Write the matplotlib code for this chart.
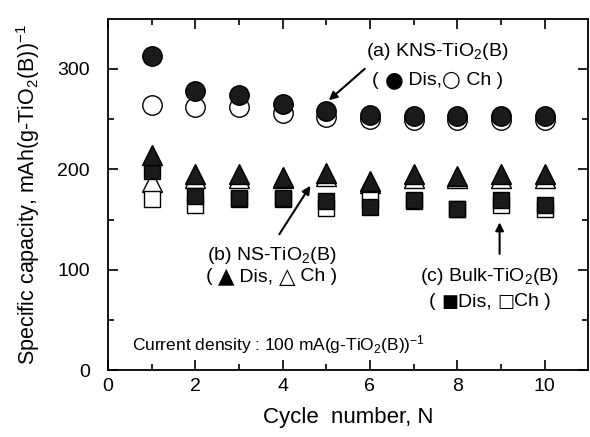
import numpy as np
import matplotlib
matplotlib.use("Agg")
import matplotlib.pyplot as plt
from matplotlib.offsetbox import TextArea, HPacker, AnnotationBbox

plt.rcParams['font.family'] = ['Liberation Sans', 'DejaVu Sans']
plt.rcParams['mathtext.fontset'] = 'custom'
plt.rcParams['mathtext.rm'] = 'Liberation Sans'
plt.rcParams['mathtext.it'] = 'Liberation Sans:italic'
plt.rcParams['mathtext.bf'] = 'Liberation Sans:bold'

# Data
cycles = np.arange(1, 11)
kns_dis = [313, 278, 274, 265, 258, 254, 253, 253, 253, 253]
kns_ch = [264, 262, 262, 256, 252, 250, 249, 249, 249, 249]
ns_dis = [214, 195, 195, 192, 196, 188, 195, 193, 195, 195]
ns_ch = [187, 191, 191, 191, 193, 186, 191, 191, 191, 191]
bulk_dis = [198, 173, 171, 171, 168, 163, 169, 161, 169, 165]
bulk_ch = [170, 165, 170, 170, 162, 169, 168, 161, 165, 161]

fig = plt.figure(figsize=(5.9, 4.37), dpi=100)
ax = fig.add_axes([0.183, 0.153, 0.814, 0.804])

ax.plot(cycles, ns_ch, '^', ms=14, mfc='white', mec='black', mew=1.0)
ax.plot(cycles, bulk_ch, 's', ms=12, mfc='white', mec='black', mew=1.0)
ax.plot(cycles, bulk_dis, 's', ms=12, mfc='#1a1a1a', mec='black', mew=1.0)
ax.plot(cycles, ns_dis, '^', ms=14, mfc='#1a1a1a', mec='black', mew=1.0)
ax.plot(cycles, kns_ch, 'o', ms=14, mfc='white', mec='black', mew=1.0)
ax.plot(cycles, kns_dis, 'o', ms=14, mfc='#1a1a1a', mec='black', mew=1.0)

ax.set_xlim(0, 11)
ax.set_ylim(0, 350)
ax.set_xticks([0, 2, 4, 6, 8, 10])
ax.set_xticks([1, 3, 5, 7, 9], minor=True)
ax.set_yticks([0, 100, 200, 300])
ax.set_yticks([50, 150, 250], minor=True)
ax.tick_params(which='both', direction='in', top=True, right=True, width=1.2)
ax.tick_params(which='major', length=7, labelsize=14, pad=6)
ax.tick_params(axis='y', which='major', pad=13)
ax.tick_params(which='minor', length=4)
for s in ax.spines.values():
    s.set_linewidth(1.3)

ax.set_xlabel('Cycle  number, N', fontsize=16, labelpad=8)
ax.set_ylabel(r'Specific capacity, mAh(g-TiO$_2$(B))$^{-1}$', fontsize=15.5, labelpad=11)

FS = 14


def symbol_line(parts, xy):
    # parts: list of (text, symbol font size or None)
    boxes = []
    for txt, size in parts:
        if size:
            props = dict(fontsize=size, family='DejaVu Sans', color='black')
        else:
            props = dict(fontsize=FS, color='black')
        boxes.append(TextArea(txt, textprops=props))
    pack = HPacker(children=boxes, align='center', pad=0, sep=0)
    ab = AnnotationBbox(pack, xy, xycoords='data', frameon=False,
                        box_alignment=(0.5, 0.5), pad=0)
    ax.add_artist(ab)


arrow = dict(arrowstyle='-|>', color='black', lw=1.5, mutation_scale=12)

# (a)
ax.text(7.55, 317, r'(a) KNS-TiO$_2$(B)', fontsize=FS, ha='center', va='center')
symbol_line([('( ', None), ('●', 15.5), (' Dis,', None), ('○', 15.5), (' Ch )', None)], (7.55, 289))
ax.annotate('', xy=(5.01, 267), xytext=(5.93, 302), arrowprops=arrow)

# (b)
ax.text(3.75, 114, r'(b) NS-TiO$_2$(B)', fontsize=FS, ha='center', va='center')
symbol_line([('( ', None), ('▲', 15.5), (' Dis, ', None), ('△', 15.5), (' Ch )', None)], (3.75, 93))
ax.annotate('', xy=(4.67, 186), xytext=(3.89, 133), arrowprops=arrow)

# (c)
ax.text(8.75, 93, r'(c) Bulk-TiO$_2$(B)', fontsize=FS, ha='center', va='center')
symbol_line([('( ', None), ('■', 13), ('Dis, ', None), ('□', 13), ('Ch )', None)], (8.75, 68))
ax.annotate('', xy=(8.97, 150), xytext=(8.97, 113), arrowprops=arrow)

ax.text(0.55, 25, r'Current density : 100 mA(g-TiO$_2$(B))$^{-1}$', fontsize=12.5,
        ha='left', va='center')

fig.savefig('out.png', dpi=100)
